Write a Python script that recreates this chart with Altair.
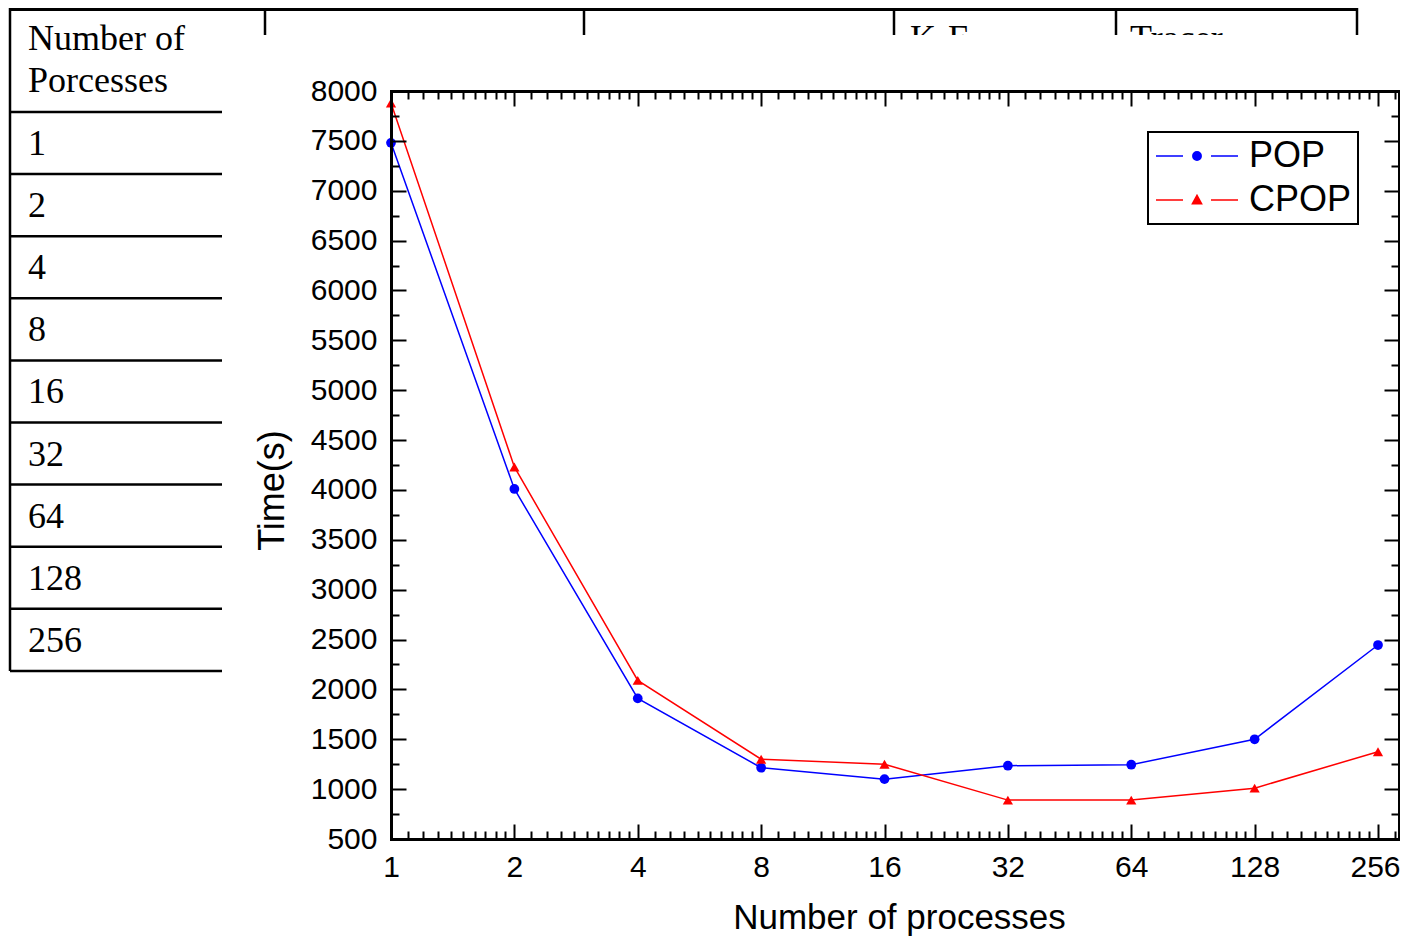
import math
import altair as alt
import pandas as pd

# ---------------- data ----------------
procs = [1, 2, 4, 8, 16, 32, 64, 128, 256]
pop_time = [7480, 4010, 1910, 1215, 1100, 1235, 1245, 1500, 2445]
cpop_time = [7880, 4230, 2090, 1300, 1250, 890, 890, 1010, 1375]
series_names = ["POP", "CPOP"]
series_colors = ["#0000ff", "#ff0000"]

x_major_ticks = [1, 2, 4, 8, 16, 32, 64, 128, 256]
y_major_ticks = list(range(500, 8001, 500))
y_minor_ticks = list(range(750, 8000, 500))

table_header = ["Number of", "Porcesses"]
table_rows = ["1", "2", "4", "8", "16", "32", "64", "128", "256"]
table_columns = ["K-E", "Tracer"]

# ---------------- layout ----------------
OX, OY = 391, 91          # page position of plot origin
W, H = 1008, 748
PAD_L, PAD_T = OX - 8, OY - 8
PAD_R = 1
PAD_B = 929 - PAD_T - H
OCTAVE = (1378 - 391) / 8.0
X_MAX = W / OCTAVE

SANS = "Liberation Sans"
SERIF = "Liberation Serif"

rows = []
for s, vals in zip(series_names, [pop_time, cpop_time]):
    for p, v in zip(procs, vals):
        rows.append({"procs": p, "series": s, "time": v})
df = pd.DataFrame(rows)

x_major = [math.log2(v) for v in x_major_ticks]
x_minor = []
for v in x_major_ticks:
    for i in range(1, 10):
        t = math.log2(v * (1 + i / 10))
        if t <= X_MAX:
            x_minor.append(t)

# ---------------- table decoration (page coords -> plot coords) ----------------
def px(x):
    return x - OX

def py(y):
    return y - OY

ROW_TOP, ROW_H = 112, 62.1
hl = [{"x": px(10), "x2": px(1357), "y": py(9.5), "w": 3}]
for i in range(len(table_rows) + 1):
    hl.append({"x": px(10), "x2": px(222), "y": py(ROW_TOP + ROW_H * i), "w": 2.5})
vl = [{"x": px(10), "y": py(8), "y2": py(ROW_TOP + ROW_H * len(table_rows)), "w": 2.5}]
for c in [265, 584, 894, 1116, 1357]:
    vl.append({"x": px(c), "y": py(8), "y2": py(35), "w": 2.5})
tx = [{"x": px(28), "y": py(50), "t": table_header[0]},
      {"x": px(28), "y": py(92), "t": table_header[1]}]
for i, r in enumerate(table_rows):
    tx.append({"x": px(28), "y": py(ROW_TOP + ROW_H * (i + 0.5) + 12), "t": r})
tx.append({"x": px(910), "y": py(50), "t": table_columns[0]})
tx.append({"x": px(1130), "y": py(50), "t": table_columns[1]})
cover = [{"x": px(880), "x2": px(1372), "y": py(35), "y2": py(88)}]

none_x = lambda f: alt.X(f, scale=None, axis=None)
none_y = lambda f: alt.Y(f, scale=None, axis=None)

t_h = alt.Chart(pd.DataFrame(hl)).mark_rule(color="black").encode(
    x=none_x("x:Q"), x2="x2:Q", y=none_y("y:Q"),
    strokeWidth=alt.StrokeWidth("w:Q", scale=None, legend=None))
t_v = alt.Chart(pd.DataFrame(vl)).mark_rule(color="black").encode(
    x=none_x("x:Q"), y=none_y("y:Q"), y2="y2:Q",
    strokeWidth=alt.StrokeWidth("w:Q", scale=None, legend=None))
t_t = alt.Chart(pd.DataFrame(tx)).mark_text(
    align="left", baseline="alphabetic", font=SERIF, fontSize=36, color="black"
).encode(x=none_x("x:Q"), y=none_y("y:Q"), text="t:N")
t_c = alt.Chart(pd.DataFrame(cover)).mark_rect(color="white").encode(
    x=none_x("x:Q"), x2="x2:Q", y=none_y("y:Q"), y2="y2:Q")

# ---------------- axes ----------------
common = dict(grid=False, zindex=1, domainColor="black", tickColor="black",
              labelColor="black", titleColor="black", tickWidth=2,
              domainWidth=3, domainCap="square")

ax_x_lab = alt.Axis(orient="bottom", values=x_major,
                    labelExpr="format(pow(2, datum.value), 'd')",
                    labelOffset={"condition": {"test": "datum.value > 7.9", "value": -3},
                                 "value": 0},
                    ticks=False, tickSize=0, domain=True, labelFlush=False,
                    labelOverlap=False, labelFont=SANS, labelFontSize=30,
                    labelPadding=13, title="Number of processes", titleFont=SANS,
                    titleFontSize=35, titleFontWeight="normal",
                    titleX=(899 - OX), titleY=89, titleAlign="center",
                    titleBaseline="alphabetic", **common)
ax_y_lab = alt.Axis(orient="left", values=y_major_ticks, format="d",
                    ticks=False, tickSize=0, domain=True, labelFlush=False,
                    labelOverlap=False, labelFont=SANS, labelFontSize=30,
                    labelPadding=14, title="Time(s)", titleFont=SANS,
                    titleFontSize=36, titleFontWeight="normal", titleX=-119,
                    titleY=399, titleAngle=270, titleAlign="center",
                    titleBaseline="middle", **common)

def tick_axis(orient, offset, values, size, domain=False):
    return alt.Axis(orient=orient, offset=offset, values=values, labels=False,
                    ticks=True, tickSize=size, domain=domain, title=None, **common)

ax_x_maj_b = tick_axis("top", -H, x_major, 15)
ax_x_min_b = tick_axis("top", -H, x_minor, 8)
ax_x_maj_t = tick_axis("bottom", -H, x_major, 15, domain=True)
ax_x_min_t = tick_axis("bottom", -H, x_minor, 8)
ax_y_maj_l = tick_axis("right", -W, y_major_ticks, 15)
ax_y_min_l = tick_axis("right", -W, y_minor_ticks, 8)
ax_y_maj_r = tick_axis("left", -W, y_major_ticks, 15, domain=True)
ax_y_min_r = tick_axis("left", -W, y_minor_ticks, 8)

xs = alt.Scale(domain=[0, X_MAX], nice=False, zero=False)
ys = alt.Scale(domain=[500, 8000], nice=False, zero=False)

def X(ax):
    return alt.X("lx:Q", scale=xs, axis=ax)

def Y(ax):
    return alt.Y("time:Q", scale=ys, axis=ax)

# ---------------- legend symbols (stroke-only paths: filled marker + dashes) ----
DASH = "M-4.1,0H-1.4M1.4,0H4.1"

def ring(r):
    return f"M{r},0A{r},{r},0,1,1,{-r},0A{r},{r},0,1,1,{r},0Z"

def tri(f):
    cy = 0.1
    pts = [(0, -0.46), (0.46, 0.38), (-0.46, 0.38)]
    q = [(x * f, cy + (y - cy) * f) for x, y in pts]
    return "M{:.3f},{:.3f}L{:.3f},{:.3f}L{:.3f},{:.3f}Z".format(*q[0], *q[1], *q[2])

POP_PATH = "".join(ring(r) for r in [0.42, 0.31, 0.2, 0.09]) + DASH
CPOP_PATH = "".join(tri(f) for f in [1.0, 0.75, 0.5, 0.25]) + DASH

legend = alt.Legend(
    title=None, orient="none", legendX=1148 - OX, legendY=132 - OY,
    direction="vertical", padding=6, rowPadding=8, strokeColor="black",
    fillColor="white", labelFont=SANS, labelFontSize=36, labelColor="black",
    symbolSize=400, symbolStrokeWidth=1.5, symbolOffset=25, labelOffset=34,
    symbolOpacity=1, labelLimit=300,
)

base = alt.Chart(df).transform_calculate(lx="log(datum.procs) / LN2")

def only(i):
    return base.transform_filter(f"datum.series === '{series_names[i]}'")

line_pop = only(0).mark_line(strokeWidth=1.5, color=series_colors[0]).encode(
    x=X(ax_x_lab), y=Y(ax_y_lab))
line_cpop = only(1).mark_line(strokeWidth=1.5, color=series_colors[1]).encode(
    x=X(None), y=Y(None))
pts_pop = only(0).mark_point(
    shape="circle", filled=True, size=95, opacity=1, color=series_colors[0]
).encode(x=X(ax_x_maj_b), y=Y(ax_y_maj_l))
pts_cpop = only(1).mark_point(
    shape="triangle-up", filled=True, size=105, opacity=1, color=series_colors[1]
).encode(x=X(ax_x_min_b), y=Y(ax_y_min_l))
leg_layer = base.mark_point(filled=False, opacity=0, strokeWidth=1.5, size=400).encode(
    x=X(ax_x_maj_t), y=Y(ax_y_maj_r),
    color=alt.Color("series:N", scale=alt.Scale(domain=series_names, range=series_colors),
                    legend=legend),
    shape=alt.Shape("series:N", scale=alt.Scale(domain=series_names,
                                                range=[POP_PATH, CPOP_PATH]),
                    legend=legend),
)
h3 = base.mark_point(opacity=0).encode(x=X(ax_x_min_t), y=Y(ax_y_min_r))

chart = alt.layer(t_h, t_v, t_t, t_c, line_pop, line_cpop, pts_pop, pts_cpop,
                  leg_layer, h3).resolve_axis(
    x="independent", y="independent"
).properties(
    width=W, height=H,
    padding={"left": PAD_L, "top": PAD_T, "right": PAD_R, "bottom": PAD_B},
    autosize=alt.AutoSizeParams(type="none"),
    background="white",
).configure_view(stroke=None).configure_legend(strokeWidth=2)

chart.save("out.html", embed_options={"renderer": "svg", "actions": False})
